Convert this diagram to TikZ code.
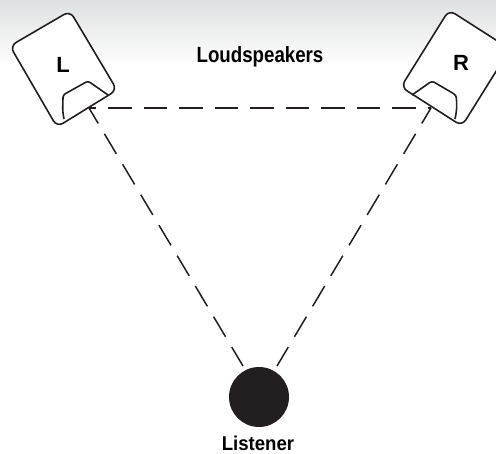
\documentclass[tikz,border=0pt]{standalone}
\usepackage{fontspec}
\setmainfont{Liberation Sans}
\definecolor{ink}{HTML}{231F20}
\definecolor{band}{HTML}{DFE0E1}
\tikzset{
  cab/.style={draw=ink,fill=white,line width=1.6pt,rounded corners=7pt,line join=round},
  horn/.style={draw=ink,line width=1.6pt,rounded corners=2.5pt,line join=round},
  beam/.style={draw=ink,line width=1.5pt,dash pattern=on 23.5pt off 12pt},
  chan/.style={font=\bfseries\fontsize{22}{22}\selectfont,text=black,inner sep=0pt},
  caption/.style={font=\bfseries\fontsize{22}{22}\selectfont,text=black,inner sep=0pt,xscale=0.85},
  lastcaption/.style={font=\bfseries\fontsize{20}{20}\selectfont,text=black,inner sep=0pt,xscale=0.93},
  head/.style={circle,fill=ink,minimum size=60pt,inner sep=0pt}
}
\begin{document}
\begin{tikzpicture}[x=1pt,y=-1pt]
\useasboundingbox (0,0) rectangle (496,454);
\fill[top color=band,bottom color=white] (0,0) rectangle (496,66);
% connectors
\node[head] (listener) at (259,397) {};
\coordinate (mouthL) at (89,108);
\coordinate (mouthR) at (431,108);
\coordinate (endL) at (243,366);
\coordinate (endR) at (277,366);
\draw[beam,dash phase=16.5pt] (mouthL) -- (mouthR);
\draw[beam,dash phase=5.5pt] (mouthL) -- (endL);
\draw[beam,dash phase=5.5pt] (mouthR) -- (endR);
% left speaker
\draw[cab] (70,11) -- (10,46) -- (57,127) -- (117,90) -- cycle;
\draw[horn] (64,119) .. controls (62,110) and (63,104) .. (63,95) -- (88,81) -- (108,95);
\node[chan] (L) at (63,65) {L};
% right speaker
\draw[cab] (449,10) -- (401,87) -- (462,126) -- (510,49) -- cycle;
\draw[horn] (412,95) -- (432,81) -- (456,95) .. controls (457,104) and (457,110) .. (455,119);
\node[chan] (R) at (461,63) {R};
% labels
\node[caption] (title) at (260,57) {Loudspeakers};
\node[lastcaption] (who) at (258,443) {Listener};
\end{tikzpicture}
\end{document}
